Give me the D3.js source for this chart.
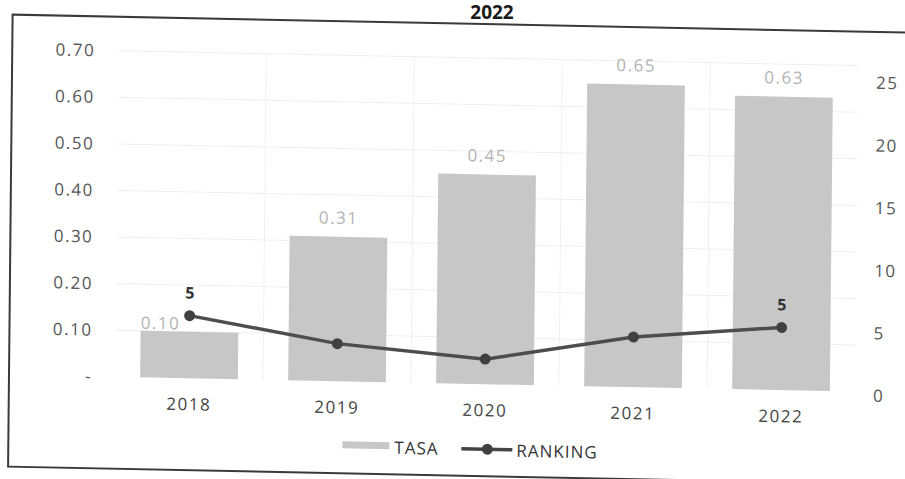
<!DOCTYPE html>
<html>
<head>
<meta charset="utf-8">
<script src="https://cdn.jsdelivr.net/npm/d3@7"></script>
<style>
  html, body { margin: 0; padding: 0; background: #fff; }
  svg { display: block; }
  text { font-family: "Open Sans", "DejaVu Sans", sans-serif; }
</style>
</head>
<body>
<svg id="chart" width="905" height="479"></svg>
<script>
// Rate (bars, left axis) and ranking (line, right axis) by year
const years = ["2018", "2019", "2020", "2021", "2022"];
const tasa = [0.10, 0.31, 0.45, 0.65, 0.63];
const tasaLabels = ["0.10", "0.31", "0.45", "0.65", "0.63"];
const ranking = [5, 3, 2, 4, 5];
const rankingLabels = ["5", "", "", "", "5"];
const leftTicks = [0, 0.10, 0.20, 0.30, 0.40, 0.50, 0.60, 0.70];
const leftTickLabels = ["-", "0.10", "0.20", "0.30", "0.40", "0.50", "0.60", "0.70"];
const rightTicks = [0, 5, 10, 15, 20, 25];
const titleText = "2022";
const legendNames = ["TASA", "RANKING"];

const svg = d3.select("#chart");

// Page is slightly skewed, as on a scanned sheet
const px = 77, py = 376;
const g = svg.append("g")
  .attr("transform", `translate(${px},${py}) matrix(1,0.02,-0.01,1,0,0) translate(${-px},${-py})`);

// Frame
g.append("rect")
  .attr("x", 9).attr("y", 16).attr("width", 930).attr("height", 452)
  .attr("fill", "none").attr("stroke", "#3a3a3a").attr("stroke-width", 2);

const x = d3.scaleBand().domain(years).range([115, 855]).paddingInner(0.34).paddingOuter(0.17);
const yL = d3.scaleLinear().domain([0, 0.70]).range([376, 50]);
const yR = d3.scaleLinear().domain([0, 25]).range([376, 63]);

// Gridlines
g.append("g").selectAll("line").data(leftTicks.slice(1)).join("line")
  .attr("x1", 115).attr("x2", 855)
  .attr("y1", d => yL(d)).attr("y2", d => yL(d))
  .attr("stroke", "#efefef").attr("stroke-width", 1);
g.append("g").selectAll("line").data(years.slice(1)).join("line")
  .attr("x1", d => x(d) - x.step() * 0.17).attr("x2", d => x(d) - x.step() * 0.17)
  .attr("y1", yL(0.70)).attr("y2", yL(0))
  .attr("stroke", "#f1f1f1").attr("stroke-width", 1);

// Left axis
const axL = g.append("g").attr("transform", "translate(92,0)")
  .call(d3.axisLeft(yL).tickValues(leftTicks).tickSize(0).tickPadding(0)
    .tickFormat((d, i) => leftTickLabels[i]));
axL.select(".domain").remove();
axL.selectAll("text").attr("font-size", 17).attr("letter-spacing", 1.5)
  .attr("fill", "#555").attr("font-family", "Open Sans");

// Right axis
const axR = g.append("g").attr("transform", "translate(873,4)")
  .call(d3.axisRight(yR).tickValues(rightTicks).tickSize(0).tickPadding(0)
    .tickFormat(d3.format("d")));
axR.select(".domain").remove();
axR.selectAll("text").attr("font-size", 17).attr("letter-spacing", 1.5)
  .attr("fill", "#555").attr("font-family", "Open Sans");

// Bottom axis labels
const axB = g.append("g").attr("transform", `translate(0,${yL(0)})`)
  .call(d3.axisBottom(x).tickSize(0).tickPadding(20));
axB.select(".domain").remove();
axB.selectAll("text").attr("font-size", 17).attr("letter-spacing", 1.5)
  .attr("fill", "#444").attr("font-family", "Open Sans");

// Bars
const bars = years.map((y, i) => ({ year: y, v: tasa[i], label: tasaLabels[i] }));
g.append("g").selectAll("rect").data(bars).join("rect")
  .attr("x", d => x(d.year)).attr("width", x.bandwidth())
  .attr("y", d => yL(d.v)).attr("height", d => yL(0) - yL(d.v))
  .attr("fill", "#c7c7c7");

// Bar value labels; the first one sits beside the ranking marker
const labelNudge = { "2018": { dx: -29, dy: 11 } };
g.append("g").selectAll("text").data(bars).join("text")
  .attr("x", d => x(d.year) + x.bandwidth() / 2 + (labelNudge[d.year] ? labelNudge[d.year].dx : 0))
  .attr("y", d => yL(d.v) - 13 + (labelNudge[d.year] ? labelNudge[d.year].dy : 0))
  .attr("text-anchor", "middle").attr("font-size", 17).attr("letter-spacing", 1.5)
  .attr("fill", "#b3b3b3")
  .text(d => d.label);

// Ranking line
const pts = years.map((y, i) => ({ year: y, v: ranking[i], label: rankingLabels[i] }));
const line = d3.line().x(d => x(d.year) + x.bandwidth() / 2).y(d => yR(d.v));
g.append("path").datum(pts)
  .attr("d", line).attr("fill", "none")
  .attr("stroke", "#4d4d4d").attr("stroke-width", 3.5);
g.append("g").selectAll("circle").data(pts).join("circle")
  .attr("cx", d => x(d.year) + x.bandwidth() / 2).attr("cy", d => yR(d.v))
  .attr("r", 5.5).attr("fill", "#404040");
g.append("g").selectAll("text").data(pts).join("text")
  .attr("x", d => x(d.year) + x.bandwidth() / 2).attr("y", d => yR(d.v) - 17)
  .attr("text-anchor", "middle").attr("font-size", 16).attr("font-weight", "bold")
  .attr("fill", "#333")
  .text(d => d.label);

// Legend
const lg = g.append("g");
lg.append("rect").attr("x", 343).attr("y", 436).attr("width", 47).attr("height", 7)
  .attr("fill", "#c7c7c7");
lg.append("text").attr("x", 395).attr("y", 447.5).attr("font-size", 17)
  .attr("letter-spacing", 1).attr("fill", "#333").text(legendNames[0]);
lg.append("line").attr("x1", 462).attr("x2", 513).attr("y1", 441).attr("y2", 441)
  .attr("stroke", "#444").attr("stroke-width", 3.5);
lg.append("circle").attr("cx", 488).attr("cy", 441).attr("r", 5.5).attr("fill", "#404040");
lg.append("text").attr("x", 517).attr("y", 448).attr("font-size", 17)
  .attr("letter-spacing", 1).attr("fill", "#333").text(legendNames[1]);

// Title
svg.append("text").attr("x", 492).attr("y", 19).attr("text-anchor", "middle")
  .attr("font-family", "Liberation Sans, Arial, sans-serif")
  .attr("font-size", 19).attr("font-weight", "bold").attr("fill", "#1a1a1a")
  .text(titleText);
</script>
</body>
</html>
